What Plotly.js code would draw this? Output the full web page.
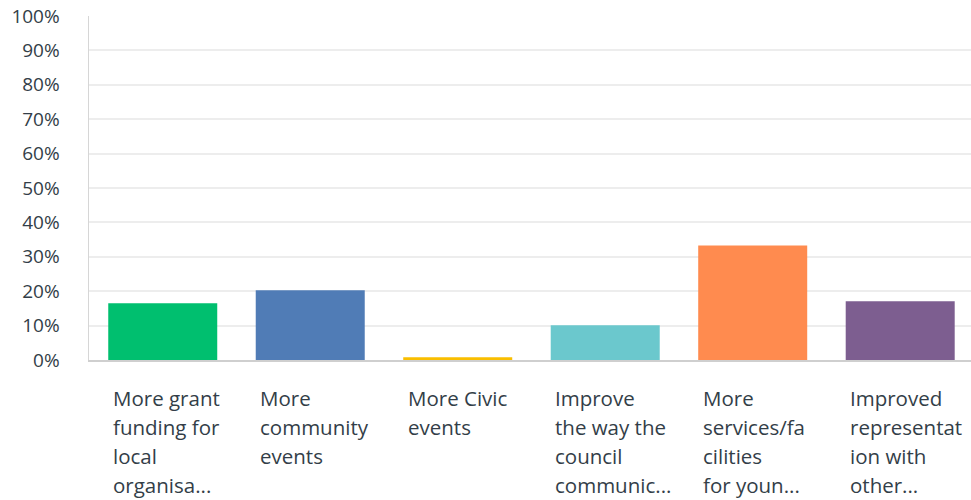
<!DOCTYPE html>
<html>
<head>
<meta charset="utf-8">
<script src="https://cdn.plot.ly/plotly-3.0.1.min.js"></script>
<style>
html,body{margin:0;padding:0;background:#fff;}
#chart{width:971px;height:500px;}
</style>
</head>
<body>
<div id="chart"></div>
<script>
const categories = [
  "More grant funding for local organisa...",
  "More community events",
  "More Civic events",
  "Improve the way the council communic...",
  "More services/facilities for youn...",
  "Improved representation with other..."
];
const labelLines = [
  ["More grant", "funding for", "local", "organisa..."],
  ["More", "community", "events"],
  ["More Civic", "events"],
  ["Improve", "the way the", "council", "communic..."],
  ["More", "services/fa", "cilities", "for youn..."],
  ["Improved", "representat", "ion with", "other..."]
];
const values = [16.5, 20.3, 0.8, 10.1, 33.3, 17.1];
const colors = ["#00bf6f", "#507cb6", "#f9be00", "#6bc8cd", "#ff8b4f", "#7d5e90"];
const yTickVals = [0,10,20,30,40,50,60,70,80,90,100];
const yTickText = ["0%","10%","20%","30%","40%","50%","60%","70%","80%","90%","100%"];

const textColor = "#333e48";
const fontFam = "'Open Sans', 'Noto Sans', sans-serif";

const annotations = [];
labelLines.forEach((lines, i) => {
  lines.forEach((ln, j) => {
    annotations.push({
      x: categories[i], xref: 'x', y: 0, yref: 'paper',
      xanchor: 'left', yanchor: 'top',
      xshift: -52, yshift: -(22 + j * 29),
      text: ln, showarrow: false,
      font: {family: fontFam, size: 20.5, color: textColor}
    });
  });
});

const trace = {
  type: 'bar',
  x: categories,
  y: values,
  marker: {color: colors},
  hoverinfo: 'x+y'
};

const layout = {
  width: 971, height: 500,
  margin: {l: 89, r: 0, t: 16, b: 140},
  paper_bgcolor: '#fff', plot_bgcolor: '#fff',
  showlegend: false,
  bargap: 0.261,
  font: {family: fontFam, color: textColor},
  xaxis: {
    type: 'category',
    range: [-0.5, 5.48],
    showticklabels: false,
    showgrid: false,
    zeroline: false,
    showline: true, linecolor: '#cfcfcf', linewidth: 2,
    ticks: '', fixedrange: true
  },
  yaxis: {
    range: [0, 100],
    tickvals: yTickVals,
    ticktext: yTickText,
    tickfont: {family: fontFam, size: 19, color: textColor},
    showgrid: true, gridcolor: '#ededed', gridwidth: 2,
    zeroline: false,
    showline: true, linecolor: '#d6d6d6', linewidth: 1.5,
    ticks: 'outside', ticklen: 24, tickcolor: 'rgba(0,0,0,0)',
    fixedrange: true
  },
  annotations: annotations
};

Plotly.newPlot('chart', [trace], layout, {displayModeBar: false, staticPlot: true});
</script>
</body>
</html>
